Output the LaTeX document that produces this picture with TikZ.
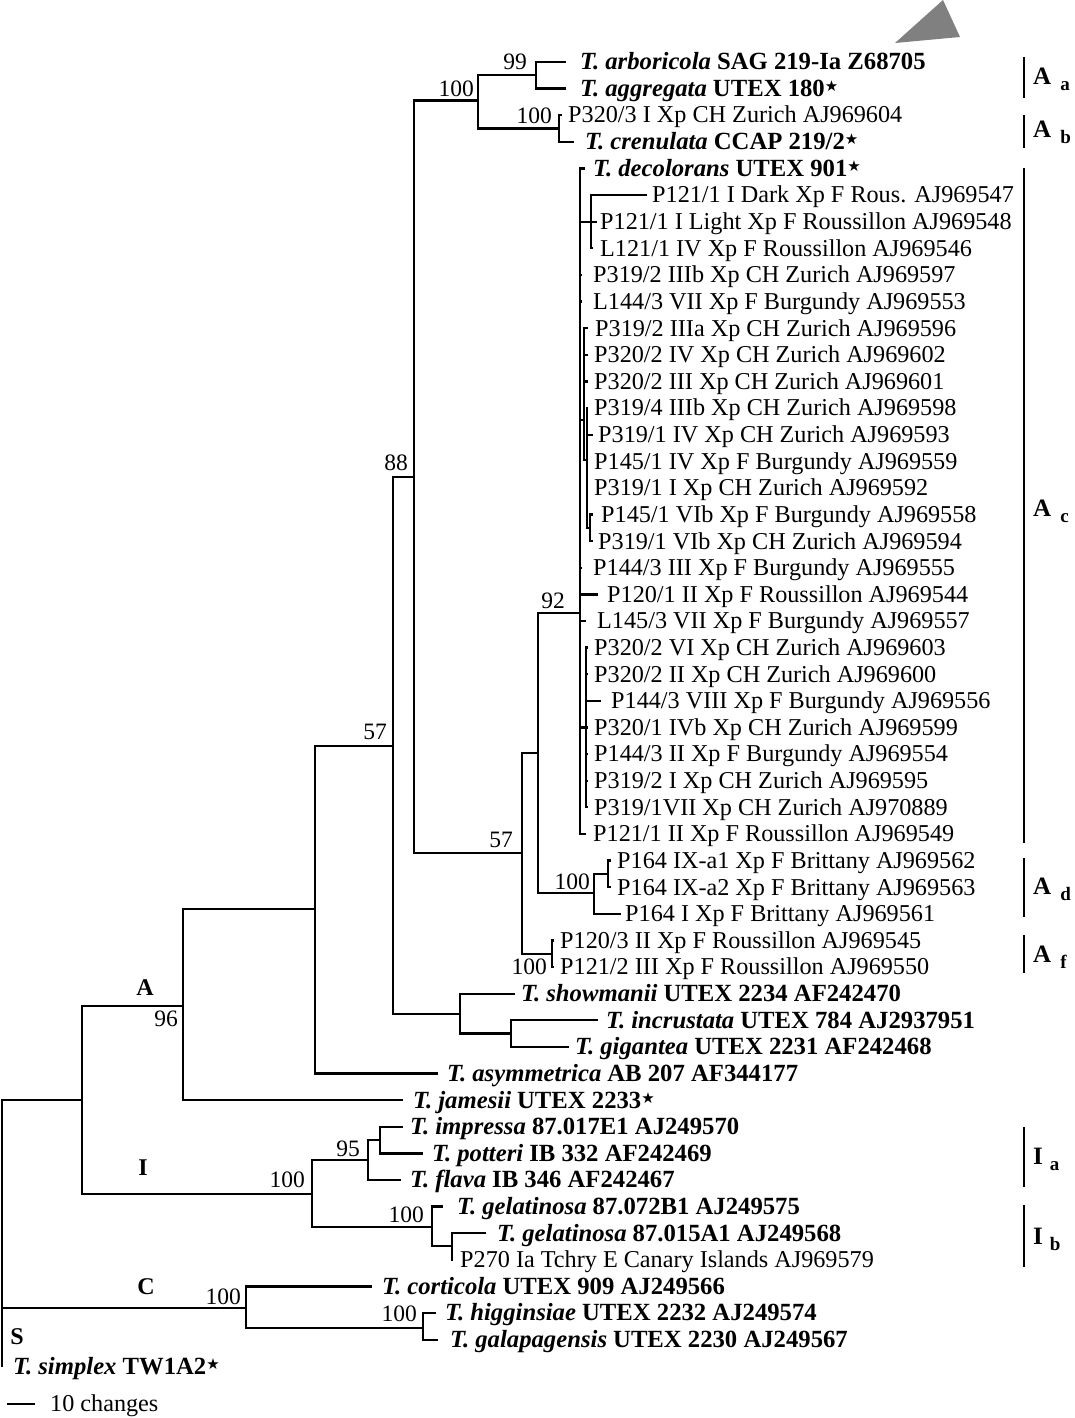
\documentclass[tikz,border=0pt]{standalone}
\usepackage{fontspec}
\setmainfont{Liberation Serif}
\newfontfamily\dejavu{DejaVu Sans}
\newcommand{\st}{\raisebox{0.45ex}{\dejavu\fontsize{15}{15}\selectfont ★}}
\newcommand{\bi}[1]{{\fontsize{24.7}{28}\selectfont\bfseries\itshape #1}}
\newcommand{\bb}[1]{{\fontsize{24.7}{28}\selectfont\bfseries #1}}
\newcommand{\leaf}[5]{\coordinate (t#1) at (#2,#4); \node[lbl] (L#1) at (#3,#4+7.8) {#5};}
\begin{document}
\begin{tikzpicture}[x=1pt,y=-1pt,
  br/.style={line width=2.3pt,line cap=rect,line join=miter},
  bk/.style={line width=2.8pt},
  lbl/.style={anchor=base west,inner sep=0pt,font=\fontsize{24.2}{28}\selectfont},
  bs/.style={anchor=base east,inner sep=0pt,font=\fontsize{23.5}{27}\selectfont},
  cl/.style={anchor=base,inner sep=0pt,font=\fontsize{24}{27}\selectfont\bfseries},
  brl/.style={anchor=west,inner sep=0pt,font=\fontsize{25}{28}\selectfont\bfseries}]
\useasboundingbox (0,0) rectangle (1075,1418);

% gray triangle
\fill[gray] (895,43) -- (943,0) -- (960,37) -- cycle;

% leaves: index, tip x, text x, y, text
\leaf{1}{565}{580}{62.0}{\bi{T. arboricola} \bb{SAG 219-Ia Z68705}}
\leaf{2}{565}{580}{88.6}{\bi{T. aggregata} \bb{UTEX 180}\st}
\leaf{3}{561}{568}{115.2}{P320/3 I Xp CH Zurich AJ969604}
\leaf{4}{573}{585}{141.9}{\bi{T. crenulata} \bb{CCAP 219/2}\st}
\leaf{5}{584}{593}{168.5}{\bi{T. decolorans} \bb{UTEX 901}\st}
\leaf{6}{646}{652}{195.1}{P121/1 I Dark Xp F Rous. AJ969547}
\leaf{7}{596}{600}{221.7}{P121/1 I Light Xp F Roussillon AJ969548}
\leaf{8}{592}{600}{248.3}{L121/1 IV Xp F Roussillon AJ969546}
\leaf{9}{581}{593}{275.0}{P319/2 IIIb Xp CH Zurich AJ969597}
\leaf{10}{581}{593}{301.6}{L144/3 VII Xp F Burgundy AJ969553}
\leaf{11}{587}{595}{328.2}{P319/2 IIIa Xp CH Zurich AJ969596}
\leaf{12}{587}{594}{354.8}{P320/2 IV Xp CH Zurich AJ969602}
\leaf{13}{587}{594}{381.4}{P320/2 III Xp CH Zurich AJ969601}
\leaf{14}{587}{594}{408.1}{P319/4 IIIb Xp CH Zurich AJ969598}
\leaf{15}{592}{598}{434.7}{P319/1 IV Xp CH Zurich AJ969593}
\leaf{16}{587}{594}{461.3}{P145/1 IV Xp F Burgundy AJ969559}
\leaf{17}{587}{594}{487.9}{P319/1 I Xp CH Zurich AJ969592}
\leaf{18}{592}{601}{514.5}{P145/1 VIb Xp F Burgundy AJ969558}
\leaf{19}{592}{598}{541.2}{P319/1 VIb Xp CH Zurich AJ969594}
\leaf{20}{581}{593}{567.8}{P144/3 III Xp F Burgundy AJ969555}
\leaf{21}{597}{607}{594.4}{P120/1 II Xp F Roussillon AJ969544}
\leaf{22}{585}{597}{621.0}{L145/3 VII Xp F Burgundy AJ969557}
\leaf{23}{587}{594}{647.6}{P320/2 VI Xp CH Zurich AJ969603}
\leaf{24}{587}{594}{674.2}{P320/2 II Xp CH Zurich AJ969600}
\leaf{25}{600}{611}{700.9}{P144/3 VIII Xp F Burgundy AJ969556}
\leaf{26}{587}{594}{727.5}{P320/1 IVb Xp CH Zurich AJ969599}
\leaf{27}{587}{594}{754.1}{P144/3 II Xp F Burgundy AJ969554}
\leaf{28}{587}{594}{780.7}{P319/2 I Xp CH Zurich AJ969595}
\leaf{29}{587}{594}{807.3}{P319/1VII Xp CH Zurich AJ970889}
\leaf{30}{585}{593}{834.0}{P121/1 II Xp F Roussillon AJ969549}
\leaf{31}{610}{617}{860.6}{P164 IX-a1 Xp F Brittany AJ969562}
\leaf{32}{610}{617}{887.2}{P164 IX-a2 Xp F Brittany AJ969563}
\leaf{33}{620}{625}{913.8}{P164 I Xp F Brittany AJ969561}
\leaf{34}{553}{560}{940.4}{P120/3 II Xp F Roussillon AJ969545}
\leaf{35}{553}{560}{967.1}{P121/2 III Xp F Roussillon AJ969550}
\leaf{36}{514}{521}{993.7}{\bi{T. showmanii} \bb{UTEX 2234 AF242470}}
\leaf{37}{597}{606}{1020.3}{\bi{T. incrustata} \bb{UTEX 784 AJ2937951}}
\leaf{38}{568}{575}{1046.9}{\bi{T. gigantea} \bb{UTEX 2231 AF242468}}
\leaf{39}{437}{447}{1073.5}{\bi{T. asymmetrica} \bb{AB 207 AF344177}}
\leaf{40}{402}{413}{1100.2}{\bi{T. jamesii} \bb{UTEX 2233}\st}
\leaf{41}{402}{410}{1126.8}{\bi{T. impressa} \bb{87.017E1 AJ249570}}
\leaf{42}{422}{432}{1153.4}{\bi{T. potteri} \bb{IB 332 AF242469}}
\leaf{43}{400}{410}{1180.0}{\bi{T. flava} \bb{IB 346 AF242467}}
\leaf{44}{442}{457}{1206.6}{\bi{T. gelatinosa} \bb{87.072B1 AJ249575}}
\leaf{45}{485}{497}{1233.2}{\bi{T. gelatinosa} \bb{87.015A1 AJ249568}}
\leaf{46}{452}{460}{1259.9}{P270 Ia Tchry E Canary Islands AJ969579}
\leaf{47}{371}{382}{1286.5}{\bi{T. corticola} \bb{UTEX 909 AJ249566}}
\leaf{48}{435}{445}{1313.1}{\bi{T. higginsiae} \bb{UTEX 2232 AJ249574}}
\leaf{49}{437}{450}{1339.7}{\bi{T. galapagensis} \bb{UTEX 2230 AJ249567}}
\leaf{50}{2}{13}{1366.3}{\bi{T. simplex} \bb{TW1A2}\st}

% internal nodes
\coordinate (root) at (2,1100);
\coordinate (nAI) at (82,1100);
\coordinate (nA) at (183,1006);
\coordinate (n57a) at (315,909);
\coordinate (n57b) at (393,746);
\coordinate (n88) at (414,477);
\coordinate (n100a) at (478,100.5);
\coordinate (n99) at (536,75.3);
\coordinate (nAb) at (559,128.5);
\coordinate (n57c) at (522,853);
\coordinate (n92) at (538,753);
\coordinate (nAc) at (580,613);
\coordinate (nS1) at (591,221.7);
\coordinate (nS2) at (584,420);
\coordinate (nS2i) at (587,460);
\coordinate (nS2b) at (590,527.9);
\coordinate (nS3) at (586,727.5);
\coordinate (nAd) at (594,893);
\coordinate (nAdd) at (608,874);
\coordinate (nAf) at (552,953.8);
\coordinate (nSh) at (460,1014);
\coordinate (nIG) at (511,1033.6);
\coordinate (nI) at (312,1194);
\coordinate (n95) at (368,1160);
\coordinate (n95b) at (380,1140);
\coordinate (nGel) at (432,1227);
\coordinate (nGelb) at (452,1246);
\coordinate (nC) at (246,1308);
\coordinate (nHG) at (423,1328);

% connectors
\draw[br] (root) -- (nAI);
\draw[br] (root) |- (nC);
\draw[br] (root) -- (t50);
\draw[br] (nAI) |- (nA);
\draw[br] (nAI) |- (nI);
\draw[br] (nA) |- (n57a);
\draw[br] (nA) |- (t40);
\draw[br] (n57a) |- (n57b);
\draw[br] (n57a) |- (t39);
\draw[br] (n57b) |- (n88);
\draw[br] (n57b) |- (nSh);
\draw[br] (nSh) |- (t36);
\draw[br] (nSh) |- (nIG);
\draw[br] (nIG) |- (t37);
\draw[br] (nIG) |- (t38);
\draw[br] (n88) |- (n100a);
\draw[br] (n88) |- (n57c);
\draw[br] (n100a) |- (n99);
\draw[br] (n100a) |- (nAb);
\draw[br] (n99) |- (t1);
\draw[br] (n99) |- (t2);
\draw[br] (nAb) |- (t3);
\draw[br] (nAb) |- (t4);
\draw[br] (n57c) |- (n92);
\draw[br] (n57c) |- (nAf);
\draw[br] (nAf) |- (t34);
\draw[br] (nAf) |- (t35);
\draw[br] (n92) |- (nAc);
\draw[br] (n92) |- (nAd);
\draw[br] (nAd) |- (nAdd);
\draw[br] (nAd) |- (t33);
\draw[br] (nAdd) |- (t31);
\draw[br] (nAdd) |- (t32);
% Ac clade
\draw[br] (nAc) |- (t5);
\draw[br] (nAc) |- (t30);
\draw[br] (nAc) |- (nS1);
\draw[br] (nS1) |- (t6);
\draw[br] (nS1) |- (t7);
\draw[br] (nS1) |- (t8);
\draw[br] (nAc) |- (t9);
\draw[br] (nAc) |- (t10);
\draw[br] (nAc) |- (nS2);
\draw[br] (nS2) |- (t11);
\draw[br] (nS2) |- (t12);
\draw[br] (nS2) |- (t13);
\draw[br] (nS2) |- (nS2i);
\draw[br] (nS2i) |- (t14);
\draw[br] (nS2i) |- (t15);
\draw[br] (nS2i) |- (t16);
\draw[br] (nS2i) |- (t17);
\draw[br] (nS2i) |- (nS2b);
\draw[br] (nS2b) |- (t18);
\draw[br] (nS2b) |- (t19);
\draw[br] (nAc) |- (t20);
\draw[br] (nAc) |- (t21);
\draw[br] (nAc) |- (t22);
\draw[br] (nAc) |- (nS3);
\draw[br] (nS3) |- (t23);
\draw[br] (nS3) |- (t24);
\draw[br] (nS3) |- (t25);
\draw[br] (nS3) |- (t26);
\draw[br] (nS3) |- (t27);
\draw[br] (nS3) |- (t28);
\draw[br] (nS3) |- (t29);
% I clade
\draw[br] (nI) |- (n95);
\draw[br] (nI) |- (nGel);
\draw[br] (n95) |- (n95b);
\draw[br] (n95) |- (t43);
\draw[br] (n95b) |- (t41);
\draw[br] (n95b) |- (t42);
\draw[br] (nGel) |- (t44);
\draw[br] (nGel) |- (nGelb);
\draw[br] (nGelb) |- (t45);
\draw[br] (nGelb) |- (t46);
% C clade
\draw[br] (nC) |- (t47);
\draw[br] (nC) |- (nHG);
\draw[br] (nHG) |- (t48);
\draw[br] (nHG) |- (t49);

% support values
\node[bs] (s99) at (527,69.5) {99};
\node[bs] (s100a) at (474,96.5) {100};
\node[bs] (s100b) at (552,123.5) {100};
\node[bs] (s88) at (408,470.5) {88};
\node[bs] (s57a) at (387,739.5) {57};
\node[bs] (s57b) at (513,847.5) {57};
\node[bs] (s92) at (565,608.5) {92};
\node[bs] (s100d) at (590,889.5) {100};
\node[bs] (s100f) at (547,974.5) {100};
\node[bs] (s96) at (178,1026.5) {96};
\node[bs] (s95) at (360,1156.5) {95};
\node[bs] (s100i) at (305,1187.5) {100};
\node[bs] (s100g) at (424,1222.5) {100};
\node[bs] (s100c) at (241,1304.5) {100};
\node[bs] (s100h) at (417,1321.5) {100};

% clade letters
\node[cl] (cA) at (145,995.5) {A};
\node[cl] (cI) at (143,1175.5) {I};
\node[cl] (cC) at (146,1294.5) {C};
\node[cl] (cS) at (17,1344.5) {S};

% brackets
\draw[bk] (1024,57) -- (1024,98);
\draw[bk] (1024,115) -- (1024,148);
\draw[bk] (1024,168) -- (1024,843);
\draw[bk] (1024,858) -- (1024,917);
\draw[bk] (1024,935) -- (1024,973);
\draw[bk] (1024,1127) -- (1024,1187);
\draw[bk] (1024,1205) -- (1024,1267);
\node[brl] (bAa) at (1033,79) {A\hspace{9pt}\raisebox{-6pt}{\fontsize{19}{19}\selectfont a}};
\node[brl] (bAb) at (1033,132) {A\hspace{9pt}\raisebox{-6pt}{\fontsize{19}{19}\selectfont b}};
\node[brl] (bAc) at (1033,511) {A\hspace{9pt}\raisebox{-6pt}{\fontsize{19}{19}\selectfont c}};
\node[brl] (bAd) at (1033,889) {A\hspace{9pt}\raisebox{-6pt}{\fontsize{19}{19}\selectfont d}};
\node[brl] (bAf) at (1033,957) {A\hspace{9pt}\raisebox{-6pt}{\fontsize{19}{19}\selectfont f}};
\node[brl] (bIa) at (1033,1159) {I\hspace{7pt}\raisebox{-6pt}{\fontsize{19}{19}\selectfont a}};
\node[brl] (bIb) at (1033,1239) {I\hspace{7pt}\raisebox{-6pt}{\fontsize{19}{19}\selectfont b}};

% scale bar
\coordinate (sb1) at (7,1404);
\coordinate (sb2) at (35,1404);
\draw[line width=2pt] (sb1) -- (sb2);
\node[lbl] (sbl) at (50,1411.5) {10 changes};
\end{tikzpicture}
\end{document}
